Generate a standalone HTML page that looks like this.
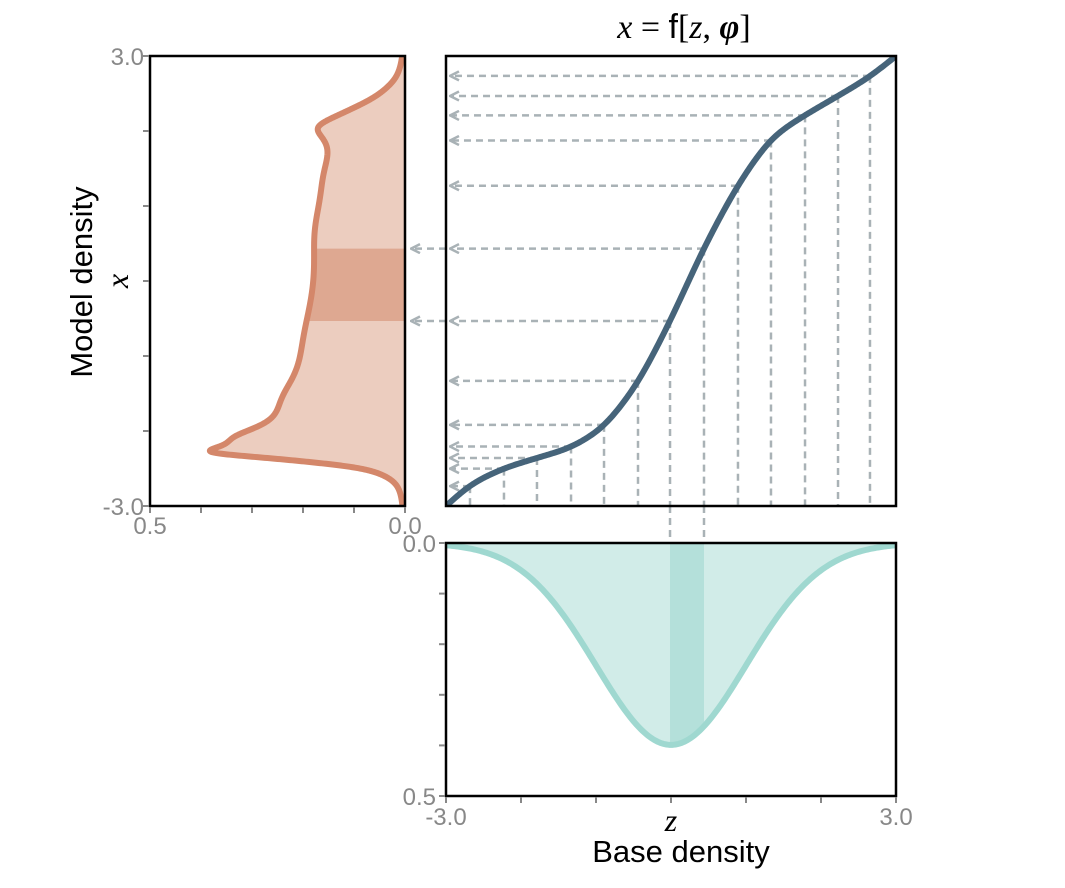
<!DOCTYPE html>
<html><head><meta charset="utf-8">
<style>
body{margin:0;background:#fff;}
svg{display:block;font-family:"Liberation Sans",sans-serif;}
</style></head>
<body>
<svg id="chart" width="1065" height="888" viewBox="0 0 1065 888">
<defs>
<marker id="arr" viewBox="0 0 10 10" refX="9" refY="5" markerWidth="4.5" markerHeight="4.5" orient="auto">
<path d="M1,1 L9,5 L1,9" fill="none" stroke="#a9b2b6" stroke-width="2.2"/>
</marker>
<clipPath id="clipM"><rect x="446" y="56" width="450" height="450"/></clipPath>
</defs>
<g id="left"></g>
<g id="main"></g>
<g id="bottom"></g>
<g id="labels">
<text x="684" y="38" font-size="34" text-anchor="middle" font-family="Liberation Serif, serif"><tspan font-style="italic">x</tspan> = <tspan font-family="Liberation Sans, sans-serif">f</tspan>[<tspan font-style="italic">z</tspan>, <tspan font-style="italic" font-weight="bold">φ</tspan>]</text>
<text x="681" y="862" font-size="31" text-anchor="middle">Base density</text>
<text x="671" y="831" font-size="32" text-anchor="middle" font-style="italic" font-family="Liberation Serif, serif">z</text>
<text transform="translate(92,282) rotate(-90)" font-size="31" text-anchor="middle">Model density</text>
<text transform="translate(128,281) rotate(-90)" font-size="32" text-anchor="middle" font-style="italic" font-family="Liberation Serif, serif">x</text>
</g>
</svg>
<script>
const zSamples=[-3,-2.68,-2.227,-1.787,-1.333,-0.893,-0.44,-0.013,0.44,0.893,1.333,1.787,2.227,2.653,3];
const xSamples=[-3,-2.707,-2.493,-2.36,-2.227,-1.96,-1.373,-0.547,0.453,1.293,1.92,2.213,2.467,2.72,3];
const guideZ=[-2.68,-2.227,-1.787,-1.333,-0.893,-0.44,-0.013,0.44,0.893,1.333,1.787,2.227,2.653];
const bandZ=[-0.013,0.44];
const zTicks=["-3.0","3.0"];
const densTicks=["0.5","0.0"];

const NS="http://www.w3.org/2000/svg";
function mk(tag,attrs,parent){const e=document.createElementNS(NS,tag);for(const k in attrs)e.setAttribute(k,attrs[k]);parent.appendChild(e);return e;}
const MX0=446,MX1=896,MY0=56,MY1=506;
const zx=z=>MX0+(z+3)/6*(MX1-MX0);
const xy=x=>MY1-(x+3)/6*(MY1-MY0);
const LX0=150,LX1=405;
const dL=d=>LX1-d/0.5*(LX1-LX0);
const BY0=543,BY1=796;
const dB=d=>BY0+d/0.5*(BY1-BY0);

const N=1200,H=6/N,n=zSamples.length;
function rawSlope(z){let i=0;while(i<n-2&&z>zSamples[i+1])i++;return (xSamples[i+1]-xSamples[i])/(zSamples[i+1]-zSamples[i]);}
const raw=[];for(let i=0;i<=N;i++)raw.push(rawSlope(-3+i*H));
const sig=0.16,K=Math.ceil(3*sig/H);
const slope=[];
for(let i=0;i<=N;i++){let s=0,w=0;for(let k=-K;k<=K;k++){let j=i+k;if(j<0)j=-j;if(j>N)j=2*N-j;const g=Math.exp(-0.5*(k*H/sig)**2);s+=g*raw[j];w+=g;}slope.push(s/w);}
const F=[-3];for(let i=1;i<=N;i++)F.push(F[i-1]+0.5*(slope[i]+slope[i-1])*H);
const scale=6/(F[N]+3);
for(let i=0;i<=N;i++){F[i]=-3+(F[i]+3)*scale;slope[i]*=scale;}
const idx=z=>Math.max(0,Math.min(N,Math.round((z+3)/H)));
const f=z=>F[idx(z)];
const fp=z=>slope[idx(z)];
const phi=z=>Math.exp(-z*z/2)/Math.sqrt(2*Math.PI);

const L=document.getElementById('left'),M=document.getElementById('main'),B=document.getElementById('bottom');
const ORANGE="#d4876a",TEAL="#9fd8d0",DARK="#46647a",GRID="#a9b2b6",TICK="#888";

let pts=[];
for(let i=0;i<=600;i++){const z=-3+6*i/600;let d=phi(z)/Math.max(fp(z),0.05);d=Math.min(d,0.5);pts.push([dL(d),xy(f(z))]);}
const la=mk('path',{d:"M"+LX1+","+MY1+" "+pts.map(p=>"L"+p[0].toFixed(2)+","+p[1].toFixed(2)).join(" ")+" L"+LX1+","+MY0+" Z",fill:"#eccdbf"},L);


let bp=[];for(let i=0;i<=60;i++){const z=bandZ[0]+(bandZ[1]-bandZ[0])*i/60;bp.push([dL(phi(z)/fp(z)),xy(f(z))]);}
const lb=mk('path',{d:"M"+LX1+","+bp[0][1]+" "+bp.map(p=>"L"+p[0]+","+p[1]).join(" ")+" L"+LX1+","+bp[bp.length-1][1]+" Z",fill:"#dea891"},L);


const ll=mk('path',{d:"M"+pts.map(p=>p[0].toFixed(2)+","+p[1].toFixed(2)).join(" L"),fill:"none",stroke:ORANGE,"stroke-width":6,"stroke-linejoin":"round"},L);


const lf=mk('rect',{x:LX0,y:MY0,width:LX1-LX0,height:MY1-MY0,fill:"none",stroke:"#000","stroke-width":2.5},L);


for(let i=0;i<=6;i++){const y=MY0+i*(MY1-MY0)/6;mk('line',{x1:LX0-7,x2:LX0-1,y1:y,y2:y,stroke:TICK,"stroke-width":2},L);}
for(let i=0;i<=5;i++){const x=LX0+i*(LX1-LX0)/5;mk('line',{x1:x,x2:x,y1:MY1+1,y2:MY1+7,stroke:TICK,"stroke-width":2},L);}
[[zTicks[1],MY0],[zTicks[0],MY1]].forEach(t=>{const e=mk('text',{x:LX0-6,y:t[1]+9,"font-size":24,fill:"#888","text-anchor":"end"},L);e.textContent=t[0];

});
[[LX0,densTicks[0]],[LX1,densTicks[1]]].forEach(t=>{const e=mk('text',{x:t[0],y:534,"font-size":24,fill:"#888","text-anchor":"middle"},L);e.textContent=t[1];

});

const G=mk('g',{"clip-path":"url(#clipM)"},M);
guideZ.forEach(z=>{const X=zx(z),Y=xy(f(z));
const v=mk('line',{x1:X,x2:X,y1:Y,y2:MY1,stroke:GRID,"stroke-width":2.5,"stroke-dasharray":"7,5"},G);


const h=mk('line',{x1:X,x2:MX0+4,y1:Y,y2:Y,stroke:GRID,"stroke-width":2.5,"stroke-dasharray":"7,5","marker-end":"url(#arr)"},G);

});
bandZ.forEach(z=>{const X=zx(z),Y=xy(f(z));
const v=mk('line',{x1:X,x2:X,y1:MY1,y2:BY0,stroke:GRID,"stroke-width":2.5,"stroke-dasharray":"7,5"},M);


const h=mk('line',{x1:MX0,x2:LX1+6,y1:Y,y2:Y,stroke:GRID,"stroke-width":2.5,"stroke-dasharray":"7,5","marker-end":"url(#arr)"},M);

});
let cp=[];for(let i=0;i<=400;i++){const z=-3+6*i/400;cp.push(zx(z).toFixed(2)+","+xy(f(z)).toFixed(2));}
const cl=mk('path',{d:"M"+cp.join(" L"),fill:"none",stroke:DARK,"stroke-width":6,"stroke-linecap":"round"},G);


const mf=mk('rect',{x:MX0,y:MY0,width:MX1-MX0,height:MY1-MY0,fill:"none",stroke:"#000","stroke-width":2.5},M);



let bpts=[];for(let i=0;i<=300;i++){const z=-3+6*i/300;bpts.push([zx(z),dB(phi(z))]);}
const ba=mk('path',{d:"M"+MX0+","+BY0+" "+bpts.map(p=>"L"+p[0].toFixed(2)+","+p[1].toFixed(2)).join(" ")+" L"+MX1+","+BY0+" Z",fill:"#d1ece8"},B);


let bb=[];for(let i=0;i<=40;i++){const z=bandZ[0]+(bandZ[1]-bandZ[0])*i/40;bb.push([zx(z),dB(phi(z))]);}
const bbp=mk('path',{d:"M"+bb[0][0]+","+BY0+" "+bb.map(p=>"L"+p[0]+","+p[1]).join(" ")+" L"+bb[bb.length-1][0]+","+BY0+" Z",fill:"#b4e0da"},B);


const bl=mk('path',{d:"M"+bpts.map(p=>p[0].toFixed(2)+","+p[1].toFixed(2)).join(" L"),fill:"none",stroke:TEAL,"stroke-width":6},B);


const bf=mk('rect',{x:MX0,y:BY0,width:MX1-MX0,height:BY1-BY0,fill:"none",stroke:"#000","stroke-width":2.5},B);


for(let i=0;i<=5;i++){const y=BY0+i*(BY1-BY0)/5;mk('line',{x1:MX0-7,x2:MX0-1,y1:y,y2:y,stroke:TICK,"stroke-width":2},B);}
for(let i=0;i<=6;i++){const x=MX0+i*(MX1-MX0)/6;mk('line',{x1:x,x2:x,y1:BY1+1,y2:BY1+7,stroke:TICK,"stroke-width":2},B);}
[[BY0,densTicks[1]],[BY1,densTicks[0]]].forEach(t=>{const e=mk('text',{x:MX0-10,y:t[0]+9,"font-size":24,fill:"#888","text-anchor":"end"},B);e.textContent=t[1];

});
[[MX0,zTicks[0]],[MX1,zTicks[1]]].forEach(t=>{const e=mk('text',{x:t[0],y:825,"font-size":24,fill:"#888","text-anchor":"middle"},B);e.textContent=t[1];

});
</script>
</body></html>
